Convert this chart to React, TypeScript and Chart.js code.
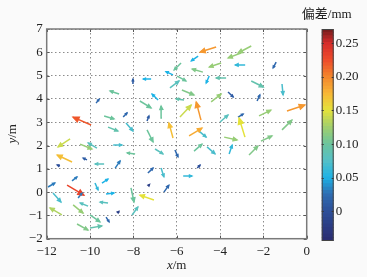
import React, { useEffect, useRef } from "react";
import { Chart, registerables } from "chart.js";
Chart.register(...registerables);

// ---- arrow data (tail position, displacement components, deviation in mm) ----
const tailX = [
  -8.66, -9.72, -9.95, -9.35, -8.47, -9.17, -8.34, -8.02, -4.18, -5.01,
  -5.8, -4.79, -3.95, -2.56, -3.03, -7.18, -6.17, -6.31, -5.98, -4.5,
  -3.72, -2.84, -1.41, -5.76, -5.66, -6.86, -7.7, -6.68, -7.37, -5.85,
  -4.88, -4.41, -6.17, -5.43, -4.97, -7.37, -2.56, -1.14, -3.63, -2.29,
  -4.0, -3.17, -2.2, -0.91, -1.14, -2.85, -3.81, -3.58, -2.66, -2.11,
  -7.92, -7.0, -6.08, -5.2, -4.6, -5.05, -7.33, -6.72, -5.7, -7.28,
  -6.59, -7.05, -8.06, -8.11, -10.92, -10.46, -9.68, -8.93, -10.83, -10.14,
  -11.39, -9.35, -8.84, -10.83, -11.94, -11.06, -9.77, -9.45, -9.26, -10.55,
  -11.71, -10.09, -9.17, -11.3, -10.78, -10.0, -9.26, -10.6, -10.0, -8.7,
];
const tailY = [
  4.21, 3.82, 2.88, 3.27, 3.22, 2.79, 2.97, 4.64, 6.23, 5.84,
  5.54, 5.15, 5.54, 6.27, 5.97, 4.85, 5.03, 4.47, 4.98, 4.98,
  4.9, 5.46, 5.58, 4.38, 3.95, 3.95, 3.91, 3.18, 3.05, 3.22,
  3.09, 3.87, 2.32, 2.41, 2.62, 2.67, 4.77, 4.64, 4.3, 3.91,
  3.01, 3.22, 3.27, 3.48, 2.67, 2.36, 2.36, 1.64, 1.59, 2.19,
  1.64, 1.85, 1.81, 1.76, 1.94, 1.03, 0.82, 1.03, 0.69, 0.3,
  0.0, -0.34, -0.98, 0.18, 2.28, 2.06, 1.89, 2.02, 1.29, 1.38,
  1.12, 1.21, 1.03, 0.48, 0.22, 0.3, 0.39, 0.39, -0.08, -0.25,
  -0.04, -0.6, -0.47, -0.98, -0.55, -0.98, -1.07, -1.37, -1.54, -0.85,
];
const dX = [
  -0.42, 0.14, -0.84, 0.46, 0.18, 0.46, 0.32, 0.0, -0.74, -0.32,
  -0.32, -0.5, -0.55, -0.61, -0.6, -0.37, -0.33, 0.42, 0.41, -0.14,
  -0.46, -0.46, -0.14, 0.56, -0.37, -0.28, 0.52, -0.04, 0.09, 0.52,
  -0.22, 0.46, -0.19, 0.6, 0.33, 0.28, 0.56, 0.05, 0.24, 0.13,
  0.37, 0.24, 0.55, 0.83, 0.46, -0.27, 0.6, 0.14, 0.41, 0.51,
  -0.37, 0.37, 0.14, 0.37, 0.37, 0.13, 0.24, 0.13, 0.41, 0.03,
  0.23, -0.65, 0.27, 0.14, -0.56, 0.55, -0.41, 0.41, -0.69, -0.18,
  -0.13, -0.42, 0.23, 0.23, 0.32, 0.78, 0.14, 0.28, 0.37, 0.18,
  0.37, -0.37, -0.37, -0.55, 0.46, 0.46, 0.14, 0.51, 0.55, 0.03,
];
const dY = [
  0.13, 0.17, 0.34, -0.13, 0.18, -0.17, -0.35, 0.21, -0.22, -0.21,
  -0.3, 0.13, -0.17, -0.3, -0.21, 0.0, 0.14, 0.3, -0.21, -0.3,
  0.0, 0.0, -0.25, -0.21, 0.05, 0.26, -0.3, 0.52, 0.22, 0.52,
  0.78, 0.34, 0.65, 0.34, -0.26, -0.52, -0.26, -0.47, -0.22, 0.26,
  0.3, 0.13, 0.25, 0.26, 0.42, 0.82, -0.12, 0.38, 0.39, 0.22,
  0.04, -0.21, -0.3, 0.3, -0.3, 0.13, 0.21, -0.38, 0.0, 0.03,
  0.3, 0.21, 0.34, -0.61, -0.34, -0.21, 0.22, 0.0, 0.3, 0.08,
  0.04, 0.0, 0.31, 0.17, 0.17, -0.43, -0.3, 0.17, 0.04, 0.21,
  -0.39, 0.13, 0.04, 0.3, -0.35, -0.3, -0.21, -0.26, 0.09, 0.03,
];
const deviation = [
  0.10, 0.02, 0.22, 0.10, 0.02, 0.09, 0.07, 0.01, 0.19, 0.05,
  0.10, 0.11, 0.12, 0.12, 0.12, 0.05, 0.05, 0.08, 0.10, 0.05,
  0.09, 0.06, 0.02, 0.11, 0.09, 0.05, 0.10, 0.10, 0.01, 0.14,
  0.19, 0.12, 0.17, 0.18, 0.07, 0.10, 0.09, 0.07, 0.01, 0.02,
  0.08, 0.02, 0.12, 0.19, 0.11, 0.15, 0.12, 0.06, 0.11, 0.11,
  0.10, 0.08, 0.02, 0.10, 0.07, 0.0, 0.02, 0.07, 0.06, -0.02,
  0.02, 0.15, 0.08, 0.10, 0.14, 0.12, 0.08, 0.07, 0.17, 0.01,
  0.0, 0.08, 0.03, 0.03, 0.03, 0.23, 0.06, 0.05, 0.05, 0.03,
  0.07, 0.08, 0.08, 0.13, 0.12, 0.10, 0.02, 0.11, 0.09, -0.02,
];

// ---- axes ----
const xMin = -12, xMax = 0, xStep = 2;
const yMin = -2, yMax = 7, yStep = 1;
const cbarMin = -0.044, cbarMax = 0.271;
const cbarTicks = [0, 0.05, 0.1, 0.15, 0.2, 0.25];
const cbarTitle = "偏差/mm";

// ---- colormap ----
const cmapStops = [-0.044, 0, 0.025, 0.05, 0.075, 0.1, 0.125, 0.15, 0.175, 0.2, 0.225, 0.25, 0.271];
const cmapColors = ["#2a2b70", "#2c4f9a", "#2e6db2", "#1db3e6", "#55c0c6", "#6cc49c", "#a2cf6c", "#e4e23a", "#f8b535", "#f3842c", "#ee4a2a", "#d42a2a", "#6a1a1a"];

const FONT = "'Liberation Serif', 'Times New Roman', 'Noto Sans CJK SC', serif";

function hexToRgb(h: string) {
  const n = parseInt(h.slice(1), 16);
  return [(n >> 16) & 255, (n >> 8) & 255, n & 255];
}
function cmap(v: number) {
  if (v <= cmapStops[0]) return cmapColors[0];
  for (let i = 1; i < cmapStops.length; i++) {
    if (v <= cmapStops[i]) {
      const t = (v - cmapStops[i - 1]) / (cmapStops[i] - cmapStops[i - 1]);
      const a = hexToRgb(cmapColors[i - 1]);
      const b = hexToRgb(cmapColors[i]);
      const c = a.map((x, k) => Math.round(x + (b[k] - x) * t));
      return `rgb(${c[0]},${c[1]},${c[2]})`;
    }
  }
  return cmapColors[cmapColors.length - 1];
}

const minusFmt = (v: number) => (v < 0 ? "\u2212" + Math.abs(v) : String(v));

const plotDecor = {
  id: "plotDecor",
  beforeDraw(chart: any) {
    const { ctx, chartArea: a } = chart;
    ctx.save();
    ctx.fillStyle = "#ffffff";
    ctx.fillRect(a.left, a.top, a.right - a.left, a.bottom - a.top);
    ctx.restore();
  },
  afterDatasetsDraw(chart: any) {
    const ctx = chart.ctx;
    chart.data.datasets.forEach((ds: any, i: number) => {
      const meta = chart.getDatasetMeta(i);
      const p0 = meta.data[0], p1 = meta.data[1];
      if (!p0 || !p1) return;
      const ax = p1.x - p0.x, ay = p1.y - p0.y;
      const len = Math.hypot(ax, ay);
      if (len < 0.5) return;
      const ang = Math.atan2(ay, ax);
      const h = Math.min(Math.max(len * 0.33, 2), 7);
      const s = 0.42;
      ctx.save();
      ctx.strokeStyle = ds.borderColor;
      ctx.fillStyle = ds.borderColor;
      ctx.lineWidth = 1.2;
      ctx.beginPath();
      ctx.moveTo(p1.x - h * Math.cos(ang - s), p1.y - h * Math.sin(ang - s));
      ctx.lineTo(p1.x, p1.y);
      ctx.lineTo(p1.x - h * Math.cos(ang + s), p1.y - h * Math.sin(ang + s));
      ctx.closePath();
      ctx.fill();
      ctx.stroke();
      ctx.restore();
    });
  },
  afterDraw(chart: any) {
    const { ctx, chartArea: a, scales } = chart;
    ctx.save();
    ctx.strokeStyle = "#555";
    ctx.lineWidth = 1;
    ctx.beginPath();
    scales.x.ticks.forEach((t: any) => {
      const px = Math.round(scales.x.getPixelForValue(t.value)) + 0.5;
      ctx.moveTo(px, a.bottom); ctx.lineTo(px, a.bottom - 3);
      ctx.moveTo(px, a.top); ctx.lineTo(px, a.top + 3);
    });
    scales.y.ticks.forEach((t: any) => {
      const py = Math.round(scales.y.getPixelForValue(t.value)) + 0.5;
      ctx.moveTo(a.left, py); ctx.lineTo(a.left + 3, py);
      ctx.moveTo(a.right, py); ctx.lineTo(a.right - 3, py);
    });
    ctx.stroke();
    ctx.strokeStyle = "#7a7a7a";
    ctx.lineWidth = 1.5;
    ctx.strokeRect(a.left, a.top, a.right - a.left, a.bottom - a.top);
    const drawLabel = (v: string, unit: string) => {
      ctx.font = `italic 13px ${FONT}`;
      const w1 = ctx.measureText(v).width;
      ctx.font = `13px ${FONT}`;
      const w2 = ctx.measureText(unit).width;
      const x0 = -(w1 + w2) / 2;
      ctx.fillStyle = "#222";
      ctx.textBaseline = "middle";
      ctx.textAlign = "left";
      ctx.font = `italic 13px ${FONT}`;
      ctx.fillText(v, x0, 0);
      ctx.font = `13px ${FONT}`;
      ctx.fillText(unit, x0 + w1, 0);
    };
    ctx.save();
    ctx.translate((a.left + a.right) / 2, 266);
    drawLabel("x", "/m");
    ctx.restore();
    ctx.save();
    ctx.translate(12.5, (a.top + a.bottom) / 2);
    ctx.rotate(-Math.PI / 2);
    drawLabel("y", "/m");
    ctx.restore();
    ctx.restore();
  },
};

const cbarDecor = {
  id: "cbarDecor",
  afterDraw(chart: any) {
    const { ctx, chartArea: a, scales } = chart;
    ctx.save();
    ctx.strokeStyle = "#333";
    ctx.lineWidth = 1;
    ctx.beginPath();
    scales.y.ticks.forEach((t: any) => {
      const py = Math.round(scales.y.getPixelForValue(t.value)) + 0.5;
      ctx.moveTo(a.left, py); ctx.lineTo(a.left + 2, py);
      ctx.moveTo(a.right, py); ctx.lineTo(a.right - 2, py);
    });
    ctx.stroke();
    ctx.strokeStyle = "#444";
    ctx.strokeRect(a.left + 0.5, a.top + 0.5, a.right - a.left - 1, a.bottom - a.top - 1);
    // colorbar title
    ctx.fillStyle = "#222";
    ctx.font = `13px ${FONT}`;
    ctx.textAlign = "center";
    ctx.textBaseline = "middle";
    ctx.fillText(cbarTitle, (a.left + a.right) / 2 - 1, 15);
    ctx.restore();
  },
};

export default function App() {
  const mainRef = useRef<HTMLCanvasElement>(null);
  const cbarRef = useRef<HTMLCanvasElement>(null);

  useEffect(() => {
    const datasets = tailX.map((x, i) => ({
      data: [
        { x, y: tailY[i] },
        { x: x + dX[i], y: tailY[i] + dY[i] },
      ],
      borderColor: cmap(deviation[i]),
      borderWidth: 1.5,
      pointRadius: 0,
      showLine: true,
      fill: false,
    }));
    const main = new Chart(mainRef.current!, {
      type: "scatter",
      data: { datasets },
      options: {
        animation: false,
        responsive: false,
        events: [],
        layout: { padding: { left: 0, right: 8.3, top: 29, bottom: 0 } },
        plugins: { legend: { display: false }, tooltip: { enabled: false } },
        scales: {
          x: {
            type: "linear",
            min: xMin,
            max: xMax,
            afterFit: (s: any) => { s.height = 38.3; },
            ticks: { stepSize: xStep, padding: 5, color: "#222", font: { family: FONT, size: 13 }, callback: (v: any) => minusFmt(Number(v)) },
            grid: { color: "rgba(0,0,0,0.45)", drawTicks: false, lineWidth: 1 },
            border: { display: false, dash: [1.5, 2.5] },
          },
          y: {
            type: "linear",
            min: yMin,
            max: yMax,
            afterFit: (s: any) => { s.width = 46.7; },
            ticks: { stepSize: yStep, padding: 4, color: "#222", font: { family: FONT, size: 13 }, callback: (v: any) => minusFmt(Number(v)) },
            grid: { color: "rgba(0,0,0,0.45)", drawTicks: false, lineWidth: 1 },
            border: { display: false, dash: [1.5, 2.5] },
          },
        },
      },
      plugins: [plotDecor],
    });

    const nSeg = 63;
    const step = (cbarMax - cbarMin) / nSeg;
    const segs = Array.from({ length: nSeg }, (_, k) => {
      const lo = cbarMin + k * step;
      return { lo, hi: Math.min(cbarMax, lo + step * 1.05), c: cmap(lo + step / 2) };
    });
    const cbar = new Chart(cbarRef.current!, {
      type: "bar",
      data: {
        labels: [""],
        datasets: segs.map((s) => ({
          data: [[s.lo, s.hi]] as any,
          backgroundColor: s.c,
          borderWidth: 0,
          barPercentage: 1,
          categoryPercentage: 1,
          grouped: false,
        })),
      },
      options: {
        animation: false,
        responsive: false,
        events: [],
        layout: { padding: { left: 31.7, right: 0, top: 29, bottom: 36 } },
        plugins: {
          legend: { display: false },
          tooltip: { enabled: false },
          title: { display: false },
        },
        scales: {
          x: { display: false },
          y: {
            min: cbarMin,
            max: cbarMax,
            position: "right",
            afterFit: (s: any) => { s.width = 33.3; },
            afterBuildTicks: (s: any) => { s.ticks = cbarTicks.map((v) => ({ value: v })); },
            ticks: {
              padding: 2,
              color: "#222",
              font: { family: FONT, size: 13 },
              callback: (v: any) => (Number(v) === 0 ? "0" : Number(v).toFixed(2)),
            },
            grid: { display: false, drawTicks: false },
            border: { display: false },
          },
        },
      },
      plugins: [cbarDecor],
    });
    return () => {
      main.destroy();
      cbar.destroy();
    };
  }, []);

  return (
    <div style={{ position: "absolute", left: 0, top: 0, width: 367, height: 277, background: "#fafafa", overflow: "hidden" }}>
      <canvas ref={mainRef} width={315} height={277} style={{ position: "absolute", left: 0, top: 0 }} />
      <canvas ref={cbarRef} width={77} height={277} style={{ position: "absolute", left: 290, top: 0 }} />
    </div>
  );
}
